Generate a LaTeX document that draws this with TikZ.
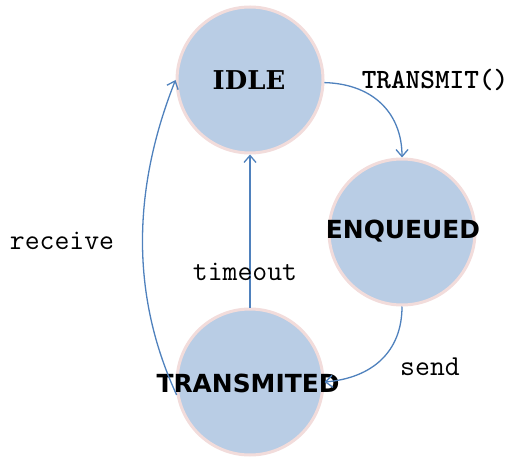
\documentclass[tikz,border=0pt]{standalone}
\usepackage{fontspec}
\setmainfont{DejaVu Sans}
\newfontfamily\statesans{DejaVu Sans}
\newfontfamily\stateserif{DejaVu Serif}
\newfontfamily\monobold{lmmonolt10-bold.otf}
\usetikzlibrary{arrows.meta}
\definecolor{statefill}{HTML}{B9CDE5}
\definecolor{stateborder}{HTML}{F2DCDB}
\definecolor{edgeblue}{HTML}{4F81BD}
\begin{document}
\begin{tikzpicture}[x=1bp,y=-1bp,
  state/.style={circle,fill=statefill,draw=stateborder,line width=3bp,minimum size=146bp,inner sep=0pt},
  statetext/.style={font=\statesans\bfseries\fontsize{25}{28}\selectfont,text=black,inner sep=0pt},
  edge/.style={draw=edgeblue,line width=1.3bp,-{Straight Barb[length=7bp,width=12bp,line width=1.3bp]}},
  elabel/.style={font=\ttfamily\fontsize{29}{32}\selectfont,text=black,inner sep=0pt}]
\useasboundingbox (0,0) rectangle (511,457);
\node[state] (idle) at (250,80) {};
\node[state] (enq) at (402,232) {};
\node[state] (trans) at (250,382) {};
\node[statetext,font=\stateserif\bfseries\fontsize{26}{30}\selectfont] (idletxt) at (249,80) {IDLE};
\node[statetext] (enqtxt) at (403,231) {ENQUEUED};
\node[statetext] (transtxt) at (248,383) {TRANSMITED};
\draw[edge] (idle.-2) .. controls (375,84) and (402,115) .. (enq.north);
\draw[edge] (enq.south) .. controls (402,352) and (372,378) .. (trans.east);
\draw[edge] (trans.north) -- (idle.south);
\draw[edge] (trans.190) .. controls (135,305) and (128,200) .. (idle.west);
\node[elabel,font=\monobold\fontsize{28}{32}\selectfont] (l1) at (435,80) {TRANSMIT()};
\node[elabel] (l2) at (430,367) {send};
\node[elabel] (l3) at (245,272) {timeout};
\node[elabel] (l4) at (62,241) {receive};
\end{tikzpicture}
\end{document}
